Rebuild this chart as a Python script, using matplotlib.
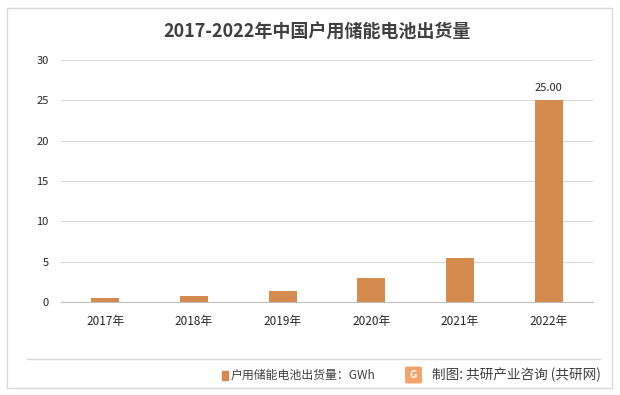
import matplotlib.pyplot as plt
from matplotlib.patches import Rectangle, FancyBboxPatch
from matplotlib.lines import Line2D

plt.rcParams['font.family'] = ['Noto Sans CJK SC', 'DejaVu Sans']

# 数据
years = ['2017年', '2018年', '2019年', '2020年', '2021年', '2022年']
shipments = [0.5, 0.75, 1.35, 2.95, 5.4, 25.0]
yticks = [0, 5, 10, 15, 20, 25, 30]
bar_color = '#D58B4E'

W, H = 620, 395
fig = plt.figure(figsize=(6.2, 3.95), dpi=100)

def fx(px):
    return px / W

def fy(py):
    return 1 - py / H

# 外框
fig.patches.append(Rectangle((fx(7), fy(388)), 605 / W, 380 / H,
                             transform=fig.transFigure, fill=False,
                             edgecolor='#d9d9d9', lw=1))

ax = fig.add_axes([fx(61), fy(302), 532 / W, 242 / H])
ax.patch.set_alpha(0)
x = range(len(years))
ax.bar(x, shipments, width=0.315, color=bar_color, zorder=3)
ax.text(5, shipments[5] + 0.9, '%.2f' % shipments[5], ha='center', va='bottom',
        fontsize=8, color='#262626', fontweight='medium')

ax.set_xlim(-0.5, 5.5)
ax.set_ylim(0, 30)
ax.set_yticks(yticks)
ax.set_yticklabels([str(v) for v in yticks], fontsize=8, color='#262626',
                   fontweight='medium')
ax.set_xticks(list(x))
ax.set_xticklabels(years, fontsize=8.5, color='#262626', fontweight='medium')
ax.tick_params(length=0)
ax.tick_params(axis='x', pad=9)
ax.tick_params(axis='y', pad=9)
ax.grid(axis='y', color='#d9d9d9', lw=0.8, zorder=0)
for s in ['top', 'right', 'left']:
    ax.spines[s].set_visible(False)
ax.spines['bottom'].set_color('#bfbfbf')

fig.text(fx(317), fy(32), '2017-2022年中国户用储能电池出货量', ha='center', va='center',
         fontsize=13, fontweight='bold', color='#404040')

# 底部分隔线与图例
fig.lines.append(Line2D([fx(27), fx(600)], [fy(359)] * 2,
                        transform=fig.transFigure, color='#d9d9d9', lw=1))
fig.patches.append(Rectangle((fx(222), fy(380)), 6 / W, 9 / H,
                             transform=fig.transFigure, color=bar_color))
fig.text(fx(231), fy(375), '户用储能电池出货量：GWh', fontsize=8.6,
         color='#404040', va='center', fontweight='medium')
fig.patches.append(FancyBboxPatch((fx(407), fy(382)), 13 / W, 14 / H,
                                  boxstyle='round,pad=0.002', transform=fig.transFigure,
                                  color='#F3A36B'))
fig.text(fx(413.5), fy(375), 'G', fontsize=7.5, fontweight='bold', color='white',
         ha='center', va='center')
fig.text(fx(432), fy(375), '制图: 共研产业咨询 (共研网)', fontsize=9.8,
         color='#404040', va='center')

fig.savefig('out.png', dpi=100)
